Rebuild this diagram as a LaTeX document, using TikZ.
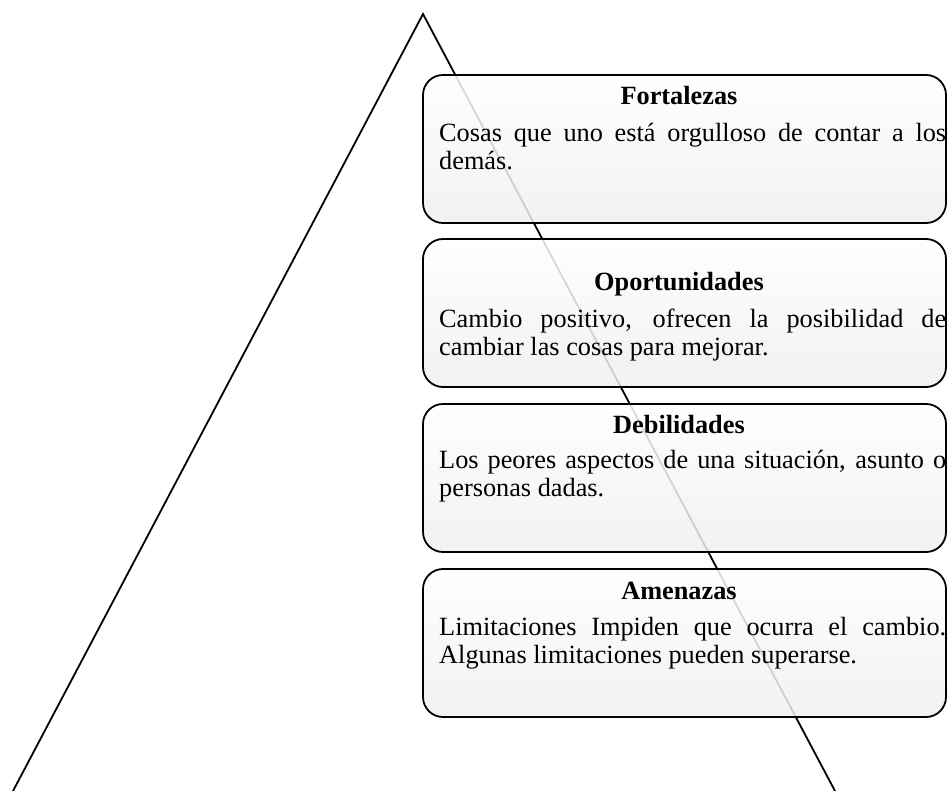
\documentclass[tikz,border=0pt]{standalone}
\usepackage{fontspec}
\setmainfont{Liberation Serif}
\newlength{\bodyw}
\setlength{\bodyw}{507pt}
\newcommand{\jline}[1]{\makebox[\bodyw][s]{#1}}
\begin{document}
\begin{tikzpicture}[x=1pt,y=-1pt,
  swotbox/.style={draw=black, line width=1.8pt, rounded corners=20pt,
    top color=white, bottom color=black!6, fill opacity=0.85, text opacity=1,
    minimum width=523pt, minimum height=148pt, inner sep=0pt},
  boxtitle/.style={anchor=base, inner sep=0pt, font=\fontsize{26.3}{30}\selectfont\bfseries},
  boxbody/.style={anchor=base west, inner sep=0pt, font=\fontsize{26.3}{30}\selectfont},
  tri/.style={draw=black, line width=1.8pt}]
\useasboundingbox (0,0) rectangle (948,791);
\fill[white] (0,0) rectangle (948,791);
% triangle sides
\coordinate (apex) at (423,14);
\coordinate (bl) at (13,791);
\coordinate (br) at (835,791);
\draw[tri] (bl) -- (apex) -- (br);
% boxes
\node[swotbox] (b1) at (684.5,149) {};
\node[swotbox] (b2) at (684.5,313) {};
\node[swotbox] (b3) at (684.5,478) {};
\node[swotbox] (b4) at (684.5,643) {};
% Fortalezas
\node[boxtitle] (t1) at (679,105) {Fortalezas};
\node[boxbody] (c1a) at (439,142) {\jline{Cosas que uno está orgulloso de contar a los}};
\node[boxbody] (c1b) at (439,170) {demás.};
% Oportunidades
\node[boxtitle] (t2) at (679,291) {Oportunidades};
\node[boxbody] (c2a) at (439,328) {\jline{Cambio positivo, ofrecen la posibilidad de}};
\node[boxbody] (c2b) at (439,356) {cambiar las cosas para mejorar.};
% Debilidades
\node[boxtitle] (t3) at (679,434) {Debilidades};
\node[boxbody] (c3a) at (439,468) {\jline{Los peores aspectos de una situación, asunto o}};
\node[boxbody] (c3b) at (439,496) {personas dadas.};
% Amenazas
\node[boxtitle] (t4) at (679,599) {Amenazas};
\node[boxbody] (c4a) at (439,635) {\jline{Limitaciones Impiden que ocurra el cambio.}};
\node[boxbody] (c4b) at (439,663) {Algunas limitaciones pueden superarse.};
\end{tikzpicture}
\end{document}
